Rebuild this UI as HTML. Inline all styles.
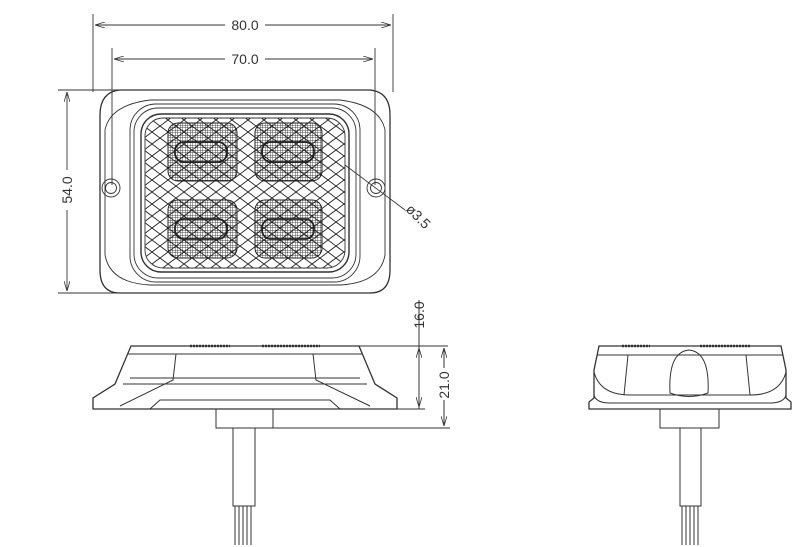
<!DOCTYPE html>
<html><head><style>html,body{margin:0;padding:0;background:#fff}svg{display:block}</style></head>
<body>
<svg width="800" height="547" viewBox="0 0 800 547" xmlns="http://www.w3.org/2000/svg" font-family="Liberation Sans, sans-serif">
<defs>
<pattern id="mesh" width="16" height="12" patternUnits="userSpaceOnUse">
<path d="M0 6 L8 0 L16 6 L8 12 Z" fill="none" stroke="#222" stroke-width="0.9"/>
</pattern>
<pattern id="grid" width="2.5" height="2.5" patternUnits="userSpaceOnUse">
<path d="M0 0 H2.5 M0 0 V2.5" stroke="#111" stroke-width="0.7" fill="none"/>
</pattern>
<marker id="ar" viewBox="0 0 10 6" refX="10" refY="3" markerWidth="10" markerHeight="6" orient="auto-start-reverse" markerUnits="userSpaceOnUse"><path d="M0 0 L10 3 L0 6" fill="none" stroke="#333" stroke-width="0.8"/></marker>
</defs>
<g stroke="#333" stroke-width="0.9" fill="none">
<line x1="93" y1="14" x2="93" y2="92"/><line x1="393" y1="14" x2="393" y2="92"/>
<line x1="95" y1="25" x2="225" y2="25" marker-start="url(#ar)"/><line x1="265" y1="25" x2="391" y2="25" marker-end="url(#ar)"/>
<line x1="112" y1="48" x2="112" y2="185"/><line x1="375" y1="48" x2="375" y2="185"/>
<line x1="114" y1="59" x2="225" y2="59" marker-start="url(#ar)"/><line x1="265" y1="59" x2="373" y2="59" marker-end="url(#ar)"/>
<line x1="58" y1="90" x2="140" y2="90"/><line x1="58" y1="293" x2="140" y2="293"/>
<line x1="67" y1="92" x2="67" y2="170" marker-start="url(#ar)"/><line x1="67" y1="210" x2="67" y2="291" marker-end="url(#ar)"/>
<path d="M120 90 H370 Q390 92 390 115 V270 Q390 293 370 293 H120 Q100 293 100 270 V115 Q100 92 120 90 Z" stroke-width="1.3"/>
<path d="M150 100 H340 Q380 105 385 130 V255 Q380 283 340 285 H150 Q110 283 105 255 V130 Q110 105 150 100 Z"/>
<rect x="130" y="104" width="230" height="178" rx="26"/>
<rect x="134" y="108" width="222" height="170" rx="24"/>
<rect x="141" y="114" width="208" height="158" rx="20" stroke-width="1.4"/>
<rect x="145" y="118" width="200" height="150" rx="18" fill="url(#mesh)"/>
<circle cx="111" cy="188" r="9"/><circle cx="111" cy="188" r="5.5"/>
<circle cx="376" cy="188" r="9"/><circle cx="376" cy="188" r="5.5"/>
<line x1="345" y1="165" x2="405" y2="210"/>
</g>
<g stroke="#222" stroke-width="1">
<g fill="url(#grid)">
<rect x="168" y="123" width="69" height="58" rx="10"/>
<rect x="255" y="123" width="67" height="58" rx="10"/>
<rect x="168" y="200" width="69" height="58" rx="10"/>
<rect x="255" y="200" width="67" height="58" rx="10"/>
</g>
<g fill="none" stroke-width="1.8">
<rect x="175" y="142" width="52" height="20" rx="9"/><rect x="262" y="142" width="52" height="20" rx="9"/>
<rect x="175" y="219" width="52" height="20" rx="9"/><rect x="262" y="219" width="52" height="20" rx="9"/>
</g>
</g>
<g font-size="14" fill="#333">
<text x="245" y="30" text-anchor="middle">80.0</text>
<text x="245" y="64" text-anchor="middle">70.0</text>
<text transform="translate(72 190) rotate(-90)" text-anchor="middle">54.0</text>
<text transform="translate(405 210) rotate(45)">ø3.5</text>
<text transform="translate(424 315) rotate(-90)" text-anchor="middle">16.0</text>
<text transform="translate(449 385) rotate(-90)" text-anchor="middle">21.0</text>
</g>
<g stroke="#333" stroke-width="1" fill="none">
<path d="M131 346 H359 L375 384 L397 398 V409 H93 V398 L115 384 Z" stroke-width="1.3"/>
<line x1="127" y1="354" x2="363" y2="354"/>
<path d="M176 354 L173 380 L120 406 M313 354 L316 380 L370 406"/>
<path d="M123 384 L367 384 M130 378 L360 378"/>
<path d="M150 409 L160 400 H330 L340 409"/>
<rect x="216" y="409" width="57" height="19"/>
<rect x="233" y="428" width="22" height="78"/>
<path d="M235 506 V545 M239 506 V545 M243 506 V545 M247 506 V545 M251 506 V545"/>
<line x1="359" y1="346" x2="448" y2="346"/>
<line x1="397" y1="409" x2="425" y2="409"/>
<line x1="273" y1="428" x2="450" y2="428"/>
<line x1="419" y1="300" x2="419" y2="409"/>
<line x1="419" y1="348" x2="419" y2="370" marker-start="url(#ar)"/>
<line x1="419" y1="385" x2="419" y2="407" marker-end="url(#ar)"/>
<line x1="444" y1="348" x2="444" y2="368" marker-start="url(#ar)"/>
<line x1="444" y1="400" x2="444" y2="426" marker-end="url(#ar)"/>
<path d="M190 346 H230 M262 346 H320" stroke-width="2.5" stroke-dasharray="2 1"/>
</g>
<g stroke="#333" stroke-width="1" fill="none">
<path d="M599 346 H781 L786 370 V398 L791 402 V409 H589 V402 L594 398 V370 Z" stroke-width="1.3"/>
<line x1="597" y1="355" x2="783" y2="355"/>
<path d="M594 372 Q600 395 630 395 H750 Q780 395 786 372"/>
<path d="M594 395 Q596 403 610 403 H770 Q784 403 786 395"/>
<path d="M628 355 L624 395 M746 355 L750 395"/>
<path d="M670 393 Q668 352 689 350 Q710 352 708 393 Q689 400 670 393 Z"/>
<rect x="660" y="409" width="59" height="19"/>
<rect x="680" y="428" width="21" height="78"/>
<path d="M682 506 V545 M686 506 V545 M690 506 V545 M694 506 V545 M698 506 V545"/>
<path d="M622 346 H650 M700 346 H750" stroke-width="2.5" stroke-dasharray="2 1"/>
</g>
</svg>
</body></html>
